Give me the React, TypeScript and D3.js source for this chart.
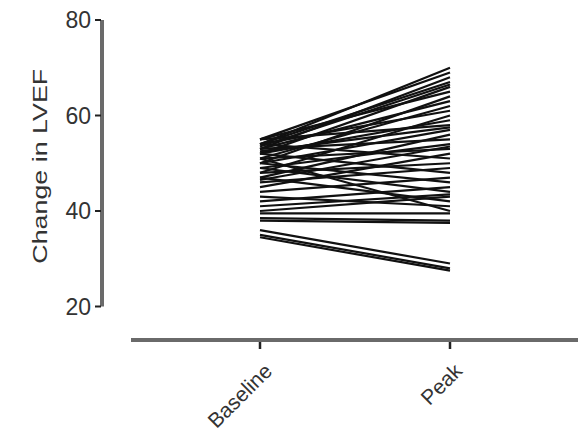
import React from "react";
import * as d3 from "d3";

const categories = ["Baseline", "Peak"];
const yTicks = [20, 40, 60, 80];
const baselineValues = [54, 55, 53, 54, 52, 55, 50, 53, 51, 54, 48, 52, 55, 50, 47, 53, 49, 51, 45, 54, 48, 46, 52, 44, 50, 42, 49, 40, 47, 43, 51, 39.5, 38.5, 38, 36, 35, 34.5, 53.5, 52.5, 46.5, 41];
const peakValues = [70, 69, 68, 67, 66, 65, 64, 63, 62, 61, 60, 59, 58, 57, 56, 55, 54, 53, 52, 51, 50, 49, 48, 47, 46, 45, 44, 43, 42, 41, 40, 39.5, 38, 37.5, 29, 28, 27.5, 66.5, 57.5, 53.5, 43.5];
const yTitle = "Change in LVEF";

export default function App() {
  const W = 579, H = 438;
  const y = d3.scaleLinear().domain([20, 80]).range([306.5, 20]);
  const x = d3.scalePoint().domain(categories).range([260, 450]);
  const line = d3.line<[string, number]>().x(d => x(d[0])!).y(d => y(d[1]));
  const pairs = baselineValues.map((b, i) => [[categories[0], b], [categories[1], peakValues[i]]] as [string, number][]);
  const font = "Arial, 'Liberation Sans', sans-serif";
  return (
    <svg width={W} height={H} style={{ position: "absolute", left: 0, top: 0, background: "#fff" }}>
      <g>
        {pairs.map((p, i) => (
          <path key={i} d={line(p)!} fill="none" stroke="#111" strokeWidth={2.2} />
        ))}
      </g>
      {/* y axis */}
      <line x1={102} x2={102} y1={y(80)} y2={y(20)} stroke="#6a6a6a" strokeWidth={4} />
      {yTicks.map(t => (
        <g key={t}>
          <line x1={95} x2={101} y1={y(t)} y2={y(t)} stroke="#222" strokeWidth={2} />
          <text x={91} y={y(t)} dy="0.35em" textAnchor="end" fontFamily={font} fontSize={23} fill="#333">{t}</text>
        </g>
      ))}
      <text transform={`translate(47,${(y(20) + y(80)) / 2 + 3}) rotate(-90)`} textAnchor="middle" fontFamily={font} fontSize={21} fill="#333" textLength={195} lengthAdjust="spacingAndGlyphs">{yTitle}</text>
      {/* x axis */}
      <line x1={131} x2={578} y1={340} y2={340} stroke="#6a6a6a" strokeWidth={4} />
      {categories.map(c => (
        <g key={c}>
          <line x1={x(c)} x2={x(c)} y1={342} y2={349} stroke="#222" strokeWidth={2.5} />
          <text transform={`translate(${x(c)! + 3},${362}) rotate(-45)`} textAnchor="end" dy="0.7em" fontFamily={font} fontSize={21} fill="#333">{c}</text>
        </g>
      ))}
    </svg>
  );
}
